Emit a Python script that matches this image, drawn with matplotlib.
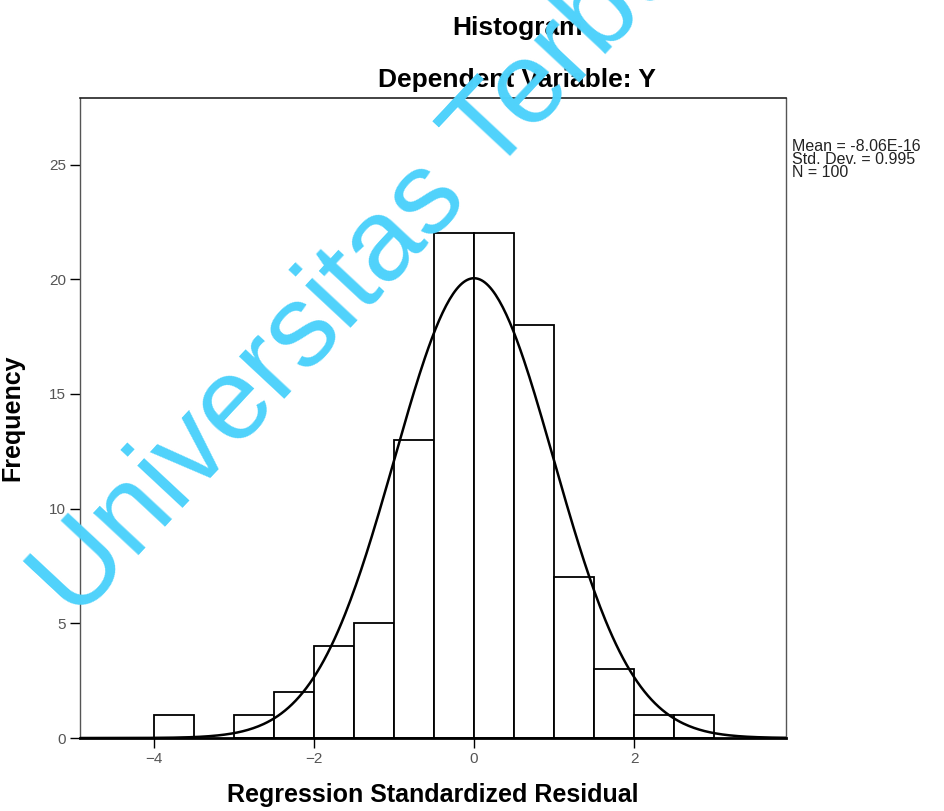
import numpy as np
import matplotlib
matplotlib.use("Agg")
import matplotlib.pyplot as plt

# histogram of regression standardized residuals (bin width 0.5)
bin_left = [-4.0, -3.0, -2.5, -2.0, -1.5, -1.0, -0.5, 0.0, 0.5, 1.0, 1.5, 2.0, 2.5]
freq = [1, 1, 2, 4, 5, 13, 22, 22, 18, 7, 3, 1, 1]
bin_width = 0.5
mean = -8.06e-16
std = 0.995
n_obs = 100

xticks = [-4, -2, 0, 2]
yticks = [0, 5, 10, 15, 20, 25]

plt.rcParams["font.family"] = ["Liberation Sans", "DejaVu Sans"]

fig = plt.figure(figsize=(9.44, 8.11), dpi=100)
ax = fig.add_axes([0.0847, 0.0900, 0.748, 0.789])

ax.bar(bin_left, freq, width=bin_width, align="edge", facecolor="white",
       edgecolor="black", linewidth=1.3, zorder=2)

# fitted normal curve, scaled to counts
xs = np.linspace(-4.93, 3.9, 400)
ys = n_obs * bin_width / (std * np.sqrt(2 * np.pi)) * np.exp(-0.5 * ((xs - mean) / std) ** 2)
ax.plot(xs, ys, color="black", linewidth=1.8, zorder=3)

ax.set_xlim(-4.925, 3.9)
ax.set_ylim(0, 27.9)
ax.set_xticks(xticks)
ax.set_yticks(yticks)
ax.tick_params(direction="out", length=7, width=1.0, labelsize=11, labelcolor="#555555", pad=3)
for side in ["left", "right"]:
    ax.spines[side].set_linewidth(1.0)
    ax.spines[side].set_color("#555555")
ax.spines["top"].set_linewidth(1.2)
ax.spines["top"].set_color("#222222")
ax.spines["bottom"].set_linewidth(2.0)

ax.set_xlabel("Regression Standardized Residual", fontsize=18, fontweight="bold", labelpad=12)
ax.set_ylabel("Frequency", fontsize=18, fontweight="bold", labelpad=18)

fig.text(517 / 944, 1 - 28 / 811, "Histogram", ha="center", va="center", fontsize=19, fontweight="bold")
fig.text(517 / 944, 1 - 80 / 811, "Dependent Variable: Y", ha="center", va="center", fontsize=19, fontweight="bold")

fig.text(792 / 944, 1 - 139 / 811,
         f"Mean = -8.06E-16\nStd. Dev. = {std:.3f}\nN = {n_obs}",
         ha="left", va="top", fontsize=11.5, linespacing=0.85, color="#222222")

# watermark
fig.text(76 / 944, 1 - 622 / 811, "Universitas Terbuka", rotation=47, rotation_mode="anchor",
         ha="left", va="baseline", fontsize=84, color="#4fd2fb", zorder=10)

fig.savefig("out.png", dpi=100)
